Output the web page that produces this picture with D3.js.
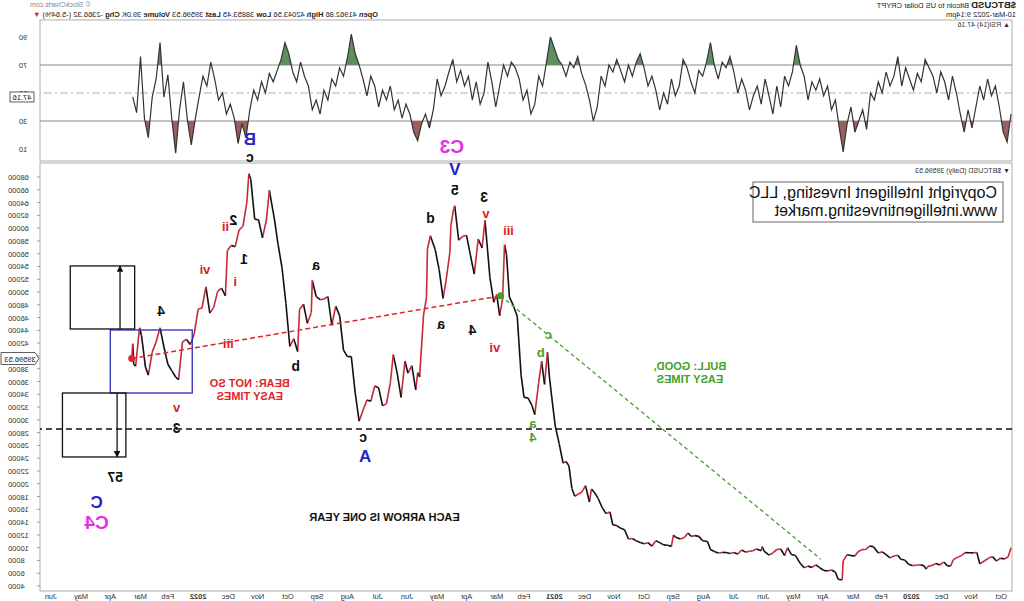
<!DOCTYPE html>
<html lang="en">
<head>
    <meta charset="UTF-8">
    <title>$BTCUSD Daily</title>
    <style>
        body { margin: 0; background: #fff; }
        svg { display: block; }
        text { font-family: "Liberation Sans", Arial, sans-serif; }
    </style>
</head>
<body>
    <div id="chart"></div>
    <script src="https://d3js.org/d3.v7.min.js"></script>
    <script>
        // ---- price data (daily closes, sampled) ----
        const priceDates = [
            "2019-09-21","2019-09-24","2019-09-28","2019-10-02","2019-10-06","2019-10-10","2019-10-14","2019-10-18","2019-10-23","2019-10-26",
            "2019-10-30","2019-11-03","2019-11-07","2019-11-11","2019-11-15","2019-11-19","2019-11-22","2019-11-25","2019-11-29","2019-12-03",
            "2019-12-07","2019-12-11","2019-12-15","2019-12-17","2019-12-19","2019-12-23","2019-12-27","2019-12-31","2020-01-04","2020-01-08",
            "2020-01-12","2020-01-15","2020-01-19","2020-01-23","2020-01-27","2020-01-31","2020-02-04","2020-02-09","2020-02-13","2020-02-17",
            "2020-02-21","2020-02-25","2020-02-28","2020-03-03","2020-03-07","2020-03-11","2020-03-12","2020-03-16","2020-03-19","2020-03-23",
            "2020-03-27","2020-03-31","2020-04-04","2020-04-08","2020-04-12","2020-04-16","2020-04-20","2020-04-24","2020-04-29","2020-05-03",
            "2020-05-07","2020-05-10","2020-05-14","2020-05-18","2020-05-22","2020-05-26","2020-05-31","2020-06-02","2020-06-03","2020-06-08",
            "2020-06-12","2020-06-15","2020-06-19","2020-06-23","2020-06-27","2020-07-01","2020-07-05","2020-07-09","2020-07-13","2020-07-17",
            "2020-07-21","2020-07-25","2020-07-28","2020-08-02","2020-08-06","2020-08-10","2020-08-14","2020-08-17","2020-08-21","2020-08-25",
            "2020-08-30","2020-09-01","2020-09-03","2020-09-07","2020-09-11","2020-09-15","2020-09-19","2020-09-23","2020-09-27","2020-10-01",
            "2020-10-05","2020-10-09","2020-10-13","2020-10-17","2020-10-21","2020-10-25","2020-10-29","2020-11-02","2020-11-05","2020-11-09",
            "2020-11-13","2020-11-17","2020-11-21","2020-11-24","2020-11-26","2020-11-30","2020-12-04","2020-12-08","2020-12-11","2020-12-14",
            "2020-12-17","2020-12-20","2020-12-23","2020-12-27","2020-12-31","2021-01-03","2021-01-06","2021-01-08","2021-01-11","2021-01-14",
            "2021-01-17","2021-01-21","2021-01-24","2021-01-28","2021-02-01","2021-02-04","2021-02-08","2021-02-12","2021-02-16","2021-02-19",
            "2021-02-21","2021-02-23","2021-02-26","2021-03-01","2021-03-04","2021-03-08","2021-03-13","2021-03-16","2021-03-20","2021-03-24",
            "2021-03-28","2021-04-01","2021-04-05","2021-04-09","2021-04-13","2021-04-14","2021-04-17","2021-04-18","2021-04-22","2021-04-25",
            "2021-04-29","2021-05-03","2021-05-08","2021-05-11","2021-05-12","2021-05-15","2021-05-19","2021-05-21","2021-05-23","2021-05-27",
            "2021-05-31","2021-06-03","2021-06-07","2021-06-11","2021-06-15","2021-06-18","2021-06-22","2021-06-26","2021-06-30","2021-07-04",
            "2021-07-08","2021-07-12","2021-07-16","2021-07-20","2021-07-24","2021-07-28","2021-08-01","2021-08-05","2021-08-09","2021-08-13",
            "2021-08-17","2021-08-21","2021-08-25","2021-08-29","2021-09-02","2021-09-06","2021-09-07","2021-09-11","2021-09-15","2021-09-19",
            "2021-09-21","2021-09-25","2021-09-29","2021-10-03","2021-10-07","2021-10-11","2021-10-15","2021-10-20","2021-10-23","2021-10-27",
            "2021-10-31","2021-11-04","2021-11-08","2021-11-10","2021-11-12","2021-11-16","2021-11-20","2021-11-24","2021-11-28","2021-12-02",
            "2021-12-04","2021-12-08","2021-12-12","2021-12-16","2021-12-20","2021-12-24","2021-12-28","2022-01-01","2022-01-05","2022-01-09",
            "2022-01-13","2022-01-17","2022-01-21","2022-01-24","2022-01-28","2022-02-01","2022-02-05","2022-02-09","2022-02-13","2022-02-17",
            "2022-02-21","2022-02-24","2022-02-28","2022-03-02","2022-03-06","2022-03-08","2022-03-09","2022-03-10"
        ];
        const priceCloses = [
            9990,8530,8240,8340,7900,8600,8370,7950,7470,9250,
            9180,9200,9230,8750,8480,8140,7120,7150,7750,7300,
            7530,7220,7070,6640,7150,7320,7240,7190,7400,8080,
            8190,8820,8700,8400,8920,9350,9180,10160,10240,9700,
            9690,9320,8690,8760,8900,7930,4970,5020,6200,6490,
            6370,6430,6860,7300,6910,7110,6860,7550,8800,8900,
            9990,8760,9790,9720,9170,8840,9450,10170,9530,9780,
            9480,9450,9300,9630,9000,9230,9080,9250,9250,9160,
            9390,9700,10950,11080,11760,11880,11770,12290,11540,11370,
            11680,11950,10200,10370,10440,10790,11090,10230,10780,10620,
            10800,11060,11430,11360,12800,13030,13460,13550,15590,15330,
            16300,17660,18680,19160,17150,19710,18660,18320,18050,19270,
            22800,23480,23240,26280,28990,32780,36700,40580,35540,39150,
            35830,30830,32290,33430,33520,36950,46200,47900,49200,55900,
            57400,48900,46300,49600,48400,52300,61200,56900,58300,52800,
            55800,58900,58700,58100,63500,63100,60400,56200,51700,49000,
            53500,56600,58800,56700,49100,46400,36700,37400,34700,38500,
            37300,39200,33500,37300,40200,35800,32500,32200,35000,35300,
            32900,33100,31500,29800,34200,39900,39900,40900,46300,47800,
            44800,49300,48900,48800,49300,51800,46800,45100,48100,47300,
            40700,42700,41500,48200,53800,57400,61600,65900,61300,58500,
            61300,61400,67600,68500,64100,60300,59700,57100,57300,56500,
            49400,50600,50100,47600,46700,50800,47500,47300,43400,41800,
            42600,42200,36300,36700,37700,38700,41400,44400,42200,40600,
            37000,38300,43200,44400,38400,38700,41900,39600
        ];
        const lastPrice = "39596.53";

        // ---- RSI(14) (every 4 days from start) ----
        const rsiStart = "2019-09-21";
        const rsiStepDays = 4;
        const rsiValues = [
            35,15,22,40,55,48,60,45,55,40, 25,38,22,35,50,62,45,58,65,50,
            62,68,74,58,64,52,60,68,55,76, 62,55,65,50,58,45,50,24,38,30,
            22,40,28,8,25,45,38,55,48,60, 52,58,45,62,70,84,65,55,62,40,
            55,35,48,60,42,55,48,38,52,60, 50,65,76,68,72,60,70,86,72,62,
            66,50,58,68,74,55,48,60,42,50, 38,52,62,55,68,78,72,62,70,58,
            66,74,65,70,55,62,40,30,45,56, 64,76,68,72,62,70,74,82,90,72,
            55,62,42,35,52,45,60,68,72,62, 70,55,40,58,72,50,42,58,45,62,
            55,66,58,74,65,55,48,60,38,25, 35,28,16,22,35,42,32,45,38,55,
            45,52,40,55,62,48,60,70,78,92, 75,62,68,55,60,45,52,35,45,38,
            55,62,72,58,65,78,86,74,66,58, 64,50,58,45,52,38,18,28,14,32,
            42,35,50,45,60,72,55,62,47,31, 13,31,58,38,7,32,63,47,86,60,
            47,18,32,76,36,47.16
        ];
        const lastRsi = "47.16";

        // ---- axes ----
        const priceTicks = d3.range(4000, 68001, 2000);
        const rsiTicks = [10, 30, 50, 70, 90];
        const monthTicks = [
            "2019-10","2019-11","2019-12","2020-01","2020-02","2020-03","2020-04","2020-05","2020-06","2020-07","2020-08",
            "2020-09","2020-10","2020-11","2020-12","2021-01","2021-02","2021-03","2021-04","2021-05","2021-06","2021-07",
            "2021-08","2021-09","2021-10","2021-11","2021-12","2022-01","2022-02","2022-03","2022-04","2022-05","2022-06"
        ];

        // ---- wave count annotations ----
        const waveText  = ["B","c","C3","V","5","3","v","iii","d","a","a","4","vi","b","c","a","4",
                           "2","ii","1","i","vi","4","iii","b","v","3","c","A","57","C","C4"];
        const waveDegree = ["major","minor","cycle","major","minor","minor","sub","sub","minor","minor","minor","minor","sub","alt","alt","alt","alt",
                           "minor","sub","minor","sub","sub","minor","sub","minor","sub","minor","minor","major","minor","major","cycle"];
        const waveDates = ["2021-11-09","2021-11-09","2021-04-16","2021-04-13","2021-04-13","2021-03-14","2021-03-12","2021-02-17","2021-05-08","2021-09-02",
                           "2021-04-27","2021-03-26","2021-03-03","2021-01-15","2021-01-07","2021-01-23","2021-01-23",
                           "2021-11-26","2021-12-04","2021-11-15","2021-11-24","2021-12-25","2022-02-08","2021-12-01","2021-09-23","2022-01-23",
                           "2022-01-23","2021-07-16","2021-07-14","2022-03-27","2022-04-15","2022-04-15"];
        const wavePrices = [73800,71140,72700,69100,66000,64900,62300,59700,61600,54200,
                           45000,44100,41250,40500,43300,29350,27300,
                           61300,60200,55200,51700,53450,47000,41900,38400,31860,
                           28700,27300,24200,21060,17000,14000];

        // trend lines, boxes and year arrows
        const bearLine = [["2022-03-10", 39600], ["2021-02-25", 49400]];
        const bullLine = [["2021-02-25", 49400], ["2020-04-03", 8200]];
        const supportLevel = 28570;
        const consolidationBox = [["2022-01-07", 34200], ["2022-04-01", 44060]];
        const upperYearBox = [["2022-03-07", 44220], ["2022-05-12", 54080]];
        const lowerYearBox = [["2022-03-16", 24190], ["2022-05-20", 34200]];
        const upArrow = [["2022-03-22", 44220], ["2022-03-22", 54080]];
        const downArrow = [["2022-03-25", 34200], ["2022-03-25", 24190]];

        const notes = [
            { lines: ["BEAR: NOT SO", "EASY TIMES"], date: "2021-11-09", price: 35770, kind: "bear" },
            { lines: ["BULL: GOOD,", "EASY TIMES"], date: "2020-08-15", price: 38430, kind: "bull" },
            { lines: ["EACH ARROW IS ONE YEAR"], date: "2021-06-24", price: 14800, kind: "plain" }
        ];

        // ---- layout ----
        const width = 1024, height = 601;
        const X0 = 12, X1 = 984;
        const rsiTop = 20, rsiBottom = 161;
        const priceTop = 163, priceBottom = 591;

        const parse = d3.timeParse("%Y-%m-%d");
        const parseMonth = d3.timeParse("%Y-%m");

        const x = d3.scaleTime()
            .domain([new Date(2019, 8, 20), new Date(2022, 5, 12)])
            .range([X0, X1]);
        const y = d3.scaleLinear().domain([4000, 68000]).range([586, 177]);
        const yR = d3.scaleLinear().domain([10, 90]).range([149, 37]);

        const colors = {
            major: "#2424c8", minor: "#111", sub: "#dd1f1f", cycle: "#e22ee0", alt: "#47a02e",
            bear: "#e0262a", bull: "#44a02c", plain: "#111"
        };
        const sizes = { major: 17, minor: 14, sub: 13, cycle: 19, alt: 13 };

        const svg = d3.select("#chart").append("svg")
            .attr("width", width).attr("height", height);

        // the whole chart is mirrored left/right
        const root = svg.append("g").attr("transform", `translate(${width},0) scale(-1,1)`);

        const defs = svg.append("defs");
        defs.append("clipPath").attr("id", "clipPrice").append("rect")
            .attr("x", X0).attr("y", priceTop).attr("width", X1 - X0).attr("height", priceBottom - priceTop);
        defs.append("clipPath").attr("id", "clipRsi").append("rect")
            .attr("x", X0).attr("y", rsiTop).attr("width", X1 - X0).attr("height", rsiBottom - rsiTop);
        defs.append("clipPath").attr("id", "clipOver").append("rect")
            .attr("x", X0).attr("y", rsiTop).attr("width", X1 - X0).attr("height", yR(70) - rsiTop);
        defs.append("clipPath").attr("id", "clipUnder").append("rect")
            .attr("x", X0).attr("y", yR(30)).attr("width", X1 - X0).attr("height", rsiBottom - yR(30));
        defs.append("marker").attr("id", "arrowHead")
            .attr("viewBox", "0 0 10 10").attr("refX", 9).attr("refY", 5)
            .attr("markerWidth", 5).attr("markerHeight", 5).attr("orient", "auto")
            .append("path").attr("d", "M0,0 L10,5 L0,10 Z").attr("fill", "#111");

        // ---- header ----
        const h1 = root.append("text").attr("x", 8).attr("y", 8).attr("font-size", 7.5).attr("fill", "#222");
        h1.append("tspan").attr("font-weight", "bold").attr("font-size", 9.5).text("$BTCUSD");
        h1.append("tspan").text(" Bitcoin to US Dollar  CRYPT");
        root.append("text").attr("x", 8).attr("y", 17).attr("font-size", 7.5).attr("fill", "#222").text("10-Mar-2022 9:14pm");
        root.append("text").attr("x", 994).attr("y", 7).attr("text-anchor", "end")
            .attr("font-size", 7).attr("fill", "#888").text("© StockCharts.com");
        const h2 = root.append("text").attr("x", 991).attr("y", 17).attr("text-anchor", "end")
            .attr("font-size", 7.5).attr("fill", "#222");
        [["Open", " 41962.86  "], ["High", " 42043.56  "], ["Low", " 38853.45  "], ["Last", " 39596.53  "],
         ["Volume", " 39.0K  "], ["Chg", " -2366.32 (-5.64%) "]].forEach(([k, v]) => {
            h2.append("tspan").attr("font-weight", "bold").text(k);
            h2.append("tspan").text(v);
        });
        h2.append("tspan").attr("fill", "#d22").text("▼");

        // ---- RSI panel ----
        root.append("rect").attr("x", X0).attr("y", rsiTop).attr("width", X1 - X0).attr("height", rsiBottom - rsiTop)
            .attr("fill", "none").attr("stroke", "#999").attr("stroke-width", 0.8);
        [70, 30].forEach(v => root.append("line").attr("x1", X0).attr("x2", X1)
            .attr("y1", yR(v)).attr("y2", yR(v)).attr("stroke", "#888").attr("stroke-width", 1));
        root.append("line").attr("x1", X0).attr("x2", X1).attr("y1", yR(50)).attr("y2", yR(50))
            .attr("stroke", "#999").attr("stroke-width", 0.8).attr("stroke-dasharray", "8,3,2,3");

        const rsiData = rsiValues.map((v, i) => ({ d: d3.timeDay.offset(parse(rsiStart), i * rsiStepDays), v }));
        const rsiG = root.append("g").attr("clip-path", "url(#clipRsi)");
        rsiG.append("path").datum(rsiData)
            .attr("clip-path", "url(#clipOver)")
            .attr("fill", "#5f8f5f")
            .attr("d", d3.area().x(d => x(d.d)).y0(yR(70)).y1(d => yR(d.v)));
        rsiG.append("path").datum(rsiData)
            .attr("clip-path", "url(#clipUnder)")
            .attr("fill", "#9c5f5f")
            .attr("d", d3.area().x(d => x(d.d)).y0(yR(30)).y1(d => yR(d.v)));
        rsiG.append("path").datum(rsiData)
            .attr("fill", "none").attr("stroke", "#333").attr("stroke-width", 1.2)
            .attr("d", d3.line().x(d => x(d.d)).y(d => yR(d.v)));

        rsiTicks.forEach(v => {
            root.append("text").attr("x", 1001).attr("y", yR(v) + 3).attr("text-anchor", "middle")
                .attr("font-size", 7.5).attr("fill", "#333").text(v);
        });
        root.append("text").attr("x", 14).attr("y", 27).attr("font-size", 7).attr("fill", "#333").text("▲ RSI(14) " + lastRsi);
        root.append("rect").attr("x", 990).attr("y", yR(47.16) - 5).attr("width", 24).attr("height", 10)
            .attr("fill", "#fff").attr("stroke", "#333").attr("stroke-width", 0.8);
        root.append("text").attr("x", 1002).attr("y", yR(47.16) + 3).attr("text-anchor", "middle")
            .attr("font-size", 7.5).attr("fill", "#111").text(lastRsi);

        // ---- price panel ----
        root.append("rect").attr("x", X0).attr("y", priceTop).attr("width", X1 - X0).attr("height", priceBottom - priceTop)
            .attr("fill", "none").attr("stroke", "#999").attr("stroke-width", 0.8);

        priceTicks.forEach(v => {
            root.append("line").attr("x1", X1).attr("x2", X1 + 3).attr("y1", y(v)).attr("y2", y(v)).attr("stroke", "#999");
            root.append("text").attr("x", 1016).attr("y", y(v) + 3).attr("text-anchor", "end")
                .attr("font-size", 7.5).attr("fill", "#333").text(v);
        });

        monthTicks.forEach(m => {
            const d = parseMonth(m);
            const isYear = d.getMonth() === 0;
            root.append("text").attr("x", x(d)).attr("y", 599).attr("text-anchor", "middle")
                .attr("font-size", 7.5).attr("fill", "#333")
                .attr("font-weight", isYear ? "bold" : "normal")
                .text(isYear ? d3.timeFormat("%Y")(d) : d3.timeFormat("%b")(d));
        });

        root.append("text").attr("x", 14).attr("y", 173).attr("font-size", 7).attr("fill", "#333")
            .text("▼ $BTCUSD (Daily) " + lastPrice);

        const priceData = priceDates.map((s, i) => ({ d: parse(s), v: priceCloses[i] }));
        const pg = root.append("g").attr("clip-path", "url(#clipPrice)");

        // support level
        pg.append("line").attr("x1", X0).attr("x2", X1).attr("y1", y(supportLevel)).attr("y2", y(supportLevel))
            .attr("stroke", "#111").attr("stroke-width", 1.3).attr("stroke-dasharray", "6,4");

        // price segments: black when up, red when down
        pg.selectAll(".seg").data(priceData.slice(1))
            .enter().append("line").attr("class", "seg")
            .attr("x1", (d, i) => x(priceData[i].d)).attr("y1", (d, i) => y(priceData[i].v))
            .attr("x2", d => x(d.d)).attr("y2", d => y(d.v))
            .attr("stroke", (d, i) => d.v < priceData[i].v ? "#c8283a" : "#111")
            .attr("stroke-width", 1.6);

        // trend lines
        const pt = p => [x(parse(p[0])), y(p[1])];
        pg.append("line")
            .attr("x1", pt(bearLine[0])[0]).attr("y1", pt(bearLine[0])[1])
            .attr("x2", pt(bearLine[1])[0]).attr("y2", pt(bearLine[1])[1])
            .attr("stroke", "#e0262a").attr("stroke-width", 1.5).attr("stroke-dasharray", "5,3");
        pg.append("line")
            .attr("x1", pt(bullLine[0])[0]).attr("y1", pt(bullLine[0])[1])
            .attr("x2", pt(bullLine[1])[0]).attr("y2", pt(bullLine[1])[1])
            .attr("stroke", "#44a02c").attr("stroke-width", 1.3).attr("stroke-dasharray", "4,3");
        pg.append("circle").attr("cx", pt(bearLine[0])[0]).attr("cy", pt(bearLine[0])[1]).attr("r", 3.5).attr("fill", "#e0262a");
        pg.append("circle").attr("cx", pt(bullLine[0])[0]).attr("cy", pt(bullLine[0])[1]).attr("r", 3.5).attr("fill", "#44a02c");

        // boxes
        const box = (b, color) => {
            const a = pt(b[0]), c = pt(b[1]);
            pg.append("rect")
                .attr("x", Math.min(a[0], c[0])).attr("y", Math.min(a[1], c[1]))
                .attr("width", Math.abs(c[0] - a[0])).attr("height", Math.abs(c[1] - a[1]))
                .attr("fill", "none").attr("stroke", color).attr("stroke-width", 1.3);
        };
        box(consolidationBox, "#2a2ab8");
        box(upperYearBox, "#111");
        box(lowerYearBox, "#111");
        [upArrow, downArrow].forEach(a => {
            pg.append("line")
                .attr("x1", pt(a[0])[0]).attr("y1", pt(a[0])[1])
                .attr("x2", pt(a[1])[0]).attr("y2", pt(a[1])[1])
                .attr("stroke", "#111").attr("stroke-width", 1.3).attr("marker-end", "url(#arrowHead)");
        });

        // wave labels
        waveText.forEach((t, i) => {
            const k = waveDegree[i];
            root.append("text")
                .attr("x", x(parse(waveDates[i]))).attr("y", y(wavePrices[i]))
                .attr("text-anchor", "middle").attr("dominant-baseline", "central")
                .attr("font-size", sizes[k]).attr("font-weight", "bold")
                .attr("fill", colors[k]).text(t);
        });

        // notes
        notes.forEach(n => {
            n.lines.forEach((l, j) => {
                root.append("text")
                    .attr("x", x(parse(n.date))).attr("y", y(n.price) + j * 13)
                    .attr("text-anchor", "middle").attr("dominant-baseline", "central")
                    .attr("font-size", 11).attr("font-weight", "bold")
                    .attr("fill", colors[n.kind]).text(l);
            });
        });

        // copyright box
        root.append("rect").attr("x", 21).attr("y", 182).attr("width", 250).attr("height", 40)
            .attr("fill", "#fff").attr("stroke", "#666").attr("stroke-width", 1);
        ["Copyright Intelligent Investing, LLC", "www.intelligentinvesting.market"].forEach((l, j) => {
            root.append("text").attr("x", 27).attr("y", 198 + j * 18)
                .attr("font-size", 16).attr("fill", "#111").text(l);
        });

        // last price tag
        const ly = y(39596.53);
        root.append("path")
            .attr("d", `M${X1 + 1},${ly} L${X1 + 5},${ly - 6} L1023,${ly - 6} L1023,${ly + 6} L${X1 + 5},${ly + 6} Z`)
            .attr("fill", "#fff").attr("stroke", "#333").attr("stroke-width", 0.8);
        root.append("text").attr("x", 1004).attr("y", ly + 3).attr("text-anchor", "middle")
            .attr("font-size", 7.5).attr("fill", "#111").text(lastPrice);
    </script>
</body>
</html>
